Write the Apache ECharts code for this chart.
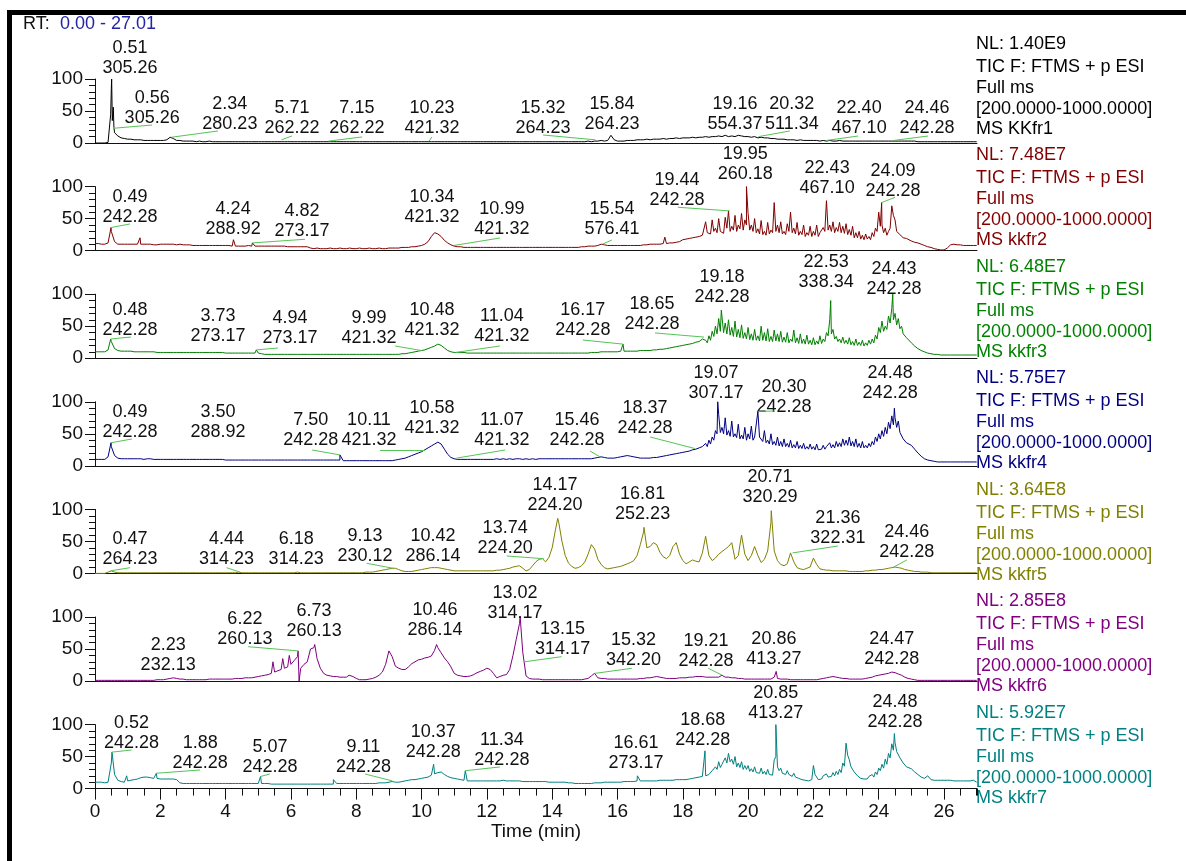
<!DOCTYPE html>
<html>
<head>
<meta charset="utf-8">
<title>TIC chromatograms kkfr1-7</title>
<script src="https://cdn.jsdelivr.net/npm/echarts@6/dist/echarts.min.js"></script>
<style>
  html, body { margin: 0; padding: 0; background: #ffffff; }
  #chart { width: 1186px; height: 861px; }
</style>
</head>
<body>
<div id="chart"></div>
<script>
// ---- data -----------------------------------------------------------------
// Relative abundance (%) sampled every 0.1 min from 0.0 to 27.0 min.
const STEP = 0.1;
const RT_MAX = 27.01;

const trace1 = [
  0,0,0,0,1,85,16,11,8,7,
  6,6,5,5,5,4,4,4,4,4,
  4,4,5,9,7,4,4,3,3,3,
  3,2,3,2,2,3,2,2,2,2,
  2,2,2,2,2,2,2,2,2,2,
  2,2,2,2,2,2,2,2,2,2,
  2,2,2,2,2,2,2,2,2,2,
  2,2,2,2,2,2,2,2,2,2,
  2,2,2,2,2,2,2,2,2,2,
  2,2,2,2,2,2,2,2,2,2,
  2,2,2,2,2,2,2,2,2,2,
  2,2,2,2,2,2,2,2,2,2,
  2,2,2,2,2,2,2,2,2,2,
  2,2,2,2,2,2,2,2,2,2,
  2,2,2,2,2,2,2,2,2,2,
  2,3,2,3,3,4,3,4,12,5,
  3,3,3,4,4,4,5,5,5,6,
  5,6,6,6,7,6,7,7,8,7,
  8,8,8,9,8,9,9,10,9,10,
  10,11,10,12,10,11,10,12,11,10,
  10,9,10,8,9,8,8,7,7,6,
  6,6,5,5,5,4,5,4,4,4,
  4,4,3,4,3,4,3,3,4,3,
  3,3,3,3,3,3,3,3,3,3,
  3,3,3,3,3,3,3,3,3,3,
  3,3,2,2,2,2,2,2,2,2,
  2,2,2,2,2,2,2,2,2,2,
  2
];
const spikes1 = [[0.45,3],[0.48,45],[0.51,100],[0.53,35],[0.56,56],[0.58,24]];

const trace2 = [
  11,11,10,10,12,30,14,10,10,10,
  10,10,10,10,10,10,10,10,9,9,
  10,10,10,10,10,9,10,9,9,9,
  8,8,8,8,8,8,8,8,8,8,
  8,8,7,7,7,7,7,8,7,7,
  7,7,7,7,7,7,7,7,7,6,
  6,6,6,6,6,6,4,3,4,3,
  3,3,4,3,3,4,3,3,4,3,
  3,4,3,3,4,3,3,4,3,3,
  4,4,4,4,5,5,5,6,6,7,
  8,10,14,22,28,26,22,16,12,9,
  7,6,6,5,5,5,5,5,5,5,
  5,5,5,5,5,5,5,5,5,5,
  5,5,5,5,5,5,5,5,5,5,
  5,5,5,5,5,5,5,5,5,6,
  6,7,7,7,8,10,9,8,8,8,
  8,8,8,8,8,8,8,8,9,9,
  10,10,10,10,11,11,12,12,13,14,
  17,18,19,20,21,22,24,45,30,48,
  35,50,33,52,62,38,55,40,58,48,
  58,40,50,34,47,30,44,32,75,40,
  45,30,42,60,35,44,30,40,28,38,
  30,40,28,36,78,40,45,36,44,38,
  42,33,38,28,30,24,26,22,28,35,
  60,40,35,30,70,48,33,26,22,18,
  15,13,12,10,8,6,5,3,2,1,
  1,4,9,10,9,9,8,8,8,8,
  8
];
const spikes2 = [[0.49,36],[1.38,20],[4.24,17],[4.82,12],[17.45,21],[19.95,100],[24.09,75]];

const trace3 = [
  10,10,10,10,13,26,15,12,11,11,
  11,11,10,10,10,10,10,10,10,9,
  9,9,9,9,9,9,9,9,9,9,
  9,9,9,9,9,9,9,9,9,9,
  8,8,8,8,8,8,8,8,8,8,
  8,7,6,6,6,6,6,6,6,6,
  6,6,6,6,6,6,6,6,6,6,
  6,6,6,6,6,6,6,6,6,6,
  6,6,6,6,6,6,6,6,6,6,
  6,6,6,6,7,7,8,9,10,11,
  12,13,15,17,19,22,20,16,12,10,
  9,9,9,9,8,8,8,8,8,8,
  8,8,8,8,8,8,8,8,8,8,
  8,8,8,8,8,8,8,8,8,8,
  8,8,8,8,8,8,8,8,8,8,
  8,8,9,9,9,10,10,10,10,10,
  10,11,11,11,11,11,11,12,12,12,
  12,13,13,14,14,15,16,17,18,19,
  20,21,22,23,25,26,30,28,35,42,
  50,62,72,55,60,48,58,45,52,40,
  48,38,45,35,50,40,46,34,44,38,
  42,33,40,30,44,32,38,30,36,28,
  32,27,35,30,40,60,45,34,30,33,
  28,32,26,30,25,28,24,28,30,36,
  48,58,50,66,78,70,62,50,40,30,
  24,19,15,12,10,8,7,6,6,5,
  5,5,5,5,5,5,5,5,5,5,
  5
];
const spikes3 = [[0.48,30],[4.94,13],[16.17,22],[18.65,33],[19.18,75],[22.53,90],[24.43,100]];

const trace4 = [
  10,10,10,10,14,30,16,12,11,11,
  11,11,11,11,11,10,11,11,10,10,
  10,10,10,10,10,10,10,10,10,10,
  10,10,10,10,10,10,10,10,10,10,
  9,9,9,9,9,9,9,9,9,9,
  9,9,9,9,9,9,9,9,9,9,
  9,9,9,9,9,9,9,9,9,9,
  9,9,9,9,9,9,8,8,8,8,
  8,8,8,8,8,8,8,8,8,8,
  8,8,9,10,11,12,14,16,18,20,
  22,25,28,31,34,37,34,26,18,13,
  11,10,10,10,10,10,10,10,10,10,
  10,10,10,11,10,11,10,11,10,11,
  11,10,11,10,11,10,11,11,11,11,
  11,11,11,11,11,11,11,11,11,11,
  11,11,11,12,13,14,13,12,12,12,
  13,14,15,16,15,14,13,12,12,12,
  12,13,13,14,15,16,17,18,19,20,
  21,22,23,25,26,28,30,35,40,45,
  55,80,60,75,55,70,50,65,48,60,
  50,62,45,85,48,55,40,50,38,45,
  38,42,35,40,33,38,32,35,30,34,
  30,34,28,32,30,36,33,38,36,42,
  40,45,38,42,35,38,32,35,38,45,
  50,55,60,68,78,75,70,55,45,38,
  32,26,20,15,11,9,8,7,6,6,
  6,6,6,6,6,6,6,6,6,6,
  6
];
const spikes4 = [[0.49,36],[7.50,17],[19.07,100],[24.48,90]];

const trace5 = [
  0,0,0,0,2,4,2,1,1,1,
  1,1,1,1,1,1,1,1,1,1,
  1,1,1,1,1,1,1,1,1,1,
  1,1,1,1,1,1,1,1,1,1,
  1,1,1,1,2,1,1,1,1,1,
  1,1,1,1,1,1,1,1,1,1,
  1,1,2,1,1,1,1,1,1,1,
  1,1,1,1,1,1,1,1,1,1,
  1,1,1,2,2,2,3,4,5,6,
  7,8,8,6,4,3,3,3,4,5,
  6,7,8,9,9,9,8,7,6,5,
  4,4,4,4,4,4,4,4,4,4,
  4,4,4,5,5,6,7,8,10,11,
  12,8,4,6,12,18,22,23,18,25,
  40,68,80,50,28,16,11,8,9,12,
  18,30,45,38,22,14,9,7,8,9,
  10,11,13,15,17,20,28,45,65,40,
  42,48,45,33,26,23,28,42,48,30,
  20,15,18,21,19,18,32,58,28,20,
  24,30,34,38,42,48,22,28,60,30,
  20,28,42,28,17,22,35,80,35,20,
  14,12,15,32,18,9,7,6,8,10,
  24,14,7,6,5,5,4,4,4,4,
  4,3,3,3,3,3,4,4,5,5,
  6,6,7,8,9,10,9,8,6,5,
  4,3,3,2,2,2,1,1,1,1,
  1,1,1,1,1,1,1,1,1,1,
  1
];
const spikes5 = [[14.17,86],[16.81,72],[20.71,98]];

const trace6 = [
  1,1,1,1,1,1,1,1,1,1,
  1,1,1,1,1,1,1,1,1,2,
  2,2,3,4,5,4,3,3,2,2,
  2,2,2,2,2,3,3,3,3,3,
  3,3,3,4,4,4,5,5,5,6,
  7,8,9,10,12,14,16,18,20,22,
  26,32,38,20,26,30,50,52,35,20,
  12,9,8,7,7,6,6,6,6,7,
  4,2,2,2,3,4,6,9,14,26,
  47,38,23,20,18,18,22,27,30,33,
  34,36,37,39,48,52,44,36,30,22,
  12,9,8,7,7,8,10,13,15,17,
  20,18,12,5,7,9,10,18,40,65,
  90,45,8,4,3,3,3,2,2,2,
  2,2,2,2,2,2,2,2,2,2,
  3,4,8,12,5,4,4,3,3,3,
  3,3,3,3,3,3,3,4,4,5,
  5,6,7,6,5,4,4,4,4,5,
  5,5,6,6,7,7,7,6,6,6,
  6,6,9,6,6,5,5,4,4,3,
  3,3,3,3,3,3,3,3,6,4,
  3,3,3,2,2,2,2,2,2,2,
  2,2,3,4,5,6,7,6,5,4,
  4,3,3,3,3,3,4,5,6,8,
  9,10,11,12,14,13,11,9,6,4,
  3,2,1,1,1,1,1,1,1,1,
  1,1,1,1,1,1,1,1,1,1,
  1
];
const spikes6 = [[5.45,30],[5.75,35],[5.95,40],[6.22,47],[6.25,0],[6.73,57],[7.78,9],[10.46,57],[13.02,100],[20.86,15]];

const trace7 = [
  10,10,10,9,10,40,22,13,11,10,
  12,13,14,15,17,18,18,17,16,16,
  15,15,15,15,15,14,9,8,8,8,
  8,8,8,8,8,8,8,8,8,8,
  8,8,8,8,8,8,8,8,8,8,
  8,8,8,8,7,7,7,7,7,7,
  7,7,7,7,7,7,7,7,7,7,
  7,7,7,7,8,8,8,8,8,8,
  8,8,8,8,8,8,8,9,9,9,
  10,11,10,10,11,12,13,14,14,15,
  16,17,18,21,23,25,26,22,19,17,
  16,15,14,13,12,12,12,12,12,12,
  12,12,12,12,12,13,12,12,12,12,
  12,11,11,11,11,11,11,11,11,10,
  10,10,10,10,10,9,9,8,8,8,
  8,8,8,9,9,9,10,10,10,10,
  10,10,11,11,11,11,12,12,12,12,
  12,12,12,13,13,13,13,13,14,14,
  14,14,15,16,17,18,19,20,22,28,
  34,42,38,48,55,46,50,40,42,36,
  36,31,34,28,32,27,30,25,45,34,
  32,26,28,22,24,20,18,15,14,13,
  36,18,16,20,23,21,25,27,30,40,
  71,45,35,28,20,18,17,19,22,26,
  32,38,46,55,70,72,60,50,42,36,
  31,26,22,18,16,20,14,13,13,13,
  13,13,13,12,12,12,12,12,12,13,
  10
];
const spikes7 = [[0.52,57],[0.97,20],[1.88,24],[5.07,19],[7.30,14],[10.37,38],[11.34,28],[16.61,20],[18.68,59],[20.85,100],[24.48,86]];

// Extra readings halfway between samples in the busy 18.75-24.85 min window
const FILL_START = 18.75;
const fill2 = [28,26,30, 28,30,27,35,30,32,30,34,32,40, 32,30,28,26,25,24,26,28,30,28,
  26,25,30,28,26,24,25,22,24,22, 24,22,25,30,32,30,28,30,28,27, 25,24,20,20,18,17,18,17,22,30,
  38,28,24,35,55,30,25,20,19];
const fill3 = [24,28,34, 38,42,40,38,36,34,33,32,31,30, 29,28,28,27,28,27,26,26,27,26,
  25,25,24,26,24,23,23,22,22,21, 21,22,23,26,35,38,30,26,24,23, 22,21,20,20,20,19,20,22,24,30,
  40,42,45,55,60,52,46,38,32];
const fill4 = [30,34,40, 50,52,50,48,46,45,44,42,42,40, 42,40,42,45,38,36,34,33,32,31,
  30,30,29,28,28,27,27,26,26,26, 25,25,26,26,27,28,28,30,30,32, 32,31,30,29,28,28,28,30,33,38,
  42,46,50,58,64,60,52,42,36];
const fill7 = [17,20,26, 30,33,36,40,42,38,34,33,30,30, 27,26,25,24,23,22,22,21,50,28,
  24,22,22,19,18,16,14,13,12,14, 22,14,15,17,18,19,20,22,25,35, 52,34,26,20,16,15,15,16,18,22,
  28,32,38,48,60,58,48,40,34];

// Peak annotations: retention time and base-peak m/z
const peaks1 = [['0.51','305.26'],['0.56','305.26'],['2.34','280.23'],['5.71','262.22'],['7.15','262.22'],['10.23','421.32'],['15.32','264.23'],['15.84','264.23'],['19.16','554.37'],['20.32','511.34'],['22.40','467.10'],['24.46','242.28']];
const peaks2 = [['0.49','242.28'],['4.24','288.92'],['4.82','273.17'],['10.34','421.32'],['10.99','421.32'],['15.54','576.41'],['19.44','242.28'],['19.95','260.18'],['22.43','467.10'],['24.09','242.28']];
const peaks3 = [['0.48','242.28'],['3.73','273.17'],['4.94','273.17'],['9.99','421.32'],['10.48','421.32'],['11.04','421.32'],['16.17','242.28'],['18.65','242.28'],['19.18','242.28'],['22.53','338.34'],['24.43','242.28']];
const peaks4 = [['0.49','242.28'],['3.50','288.92'],['7.50','242.28'],['10.11','421.32'],['10.58','421.32'],['11.07','421.32'],['15.46','242.28'],['18.37','242.28'],['19.07','307.17'],['20.30','242.28'],['24.48','242.28']];
const peaks5 = [['0.47','264.23'],['4.44','314.23'],['6.18','314.23'],['9.13','230.12'],['10.42','286.14'],['13.74','224.20'],['14.17','224.20'],['16.81','252.23'],['20.71','320.29'],['21.36','322.31'],['24.46','242.28']];
const peaks6 = [['2.23','232.13'],['6.22','260.13'],['6.73','260.13'],['10.46','286.14'],['13.02','314.17'],['13.15','314.17'],['15.32','342.20'],['19.21','242.28'],['20.86','413.27'],['24.47','242.28']];
const peaks7 = [['0.52','242.28'],['1.88','242.28'],['5.07','242.28'],['9.11','242.28'],['10.37','242.28'],['11.34','242.28'],['16.61','273.17'],['18.68','242.28'],['20.85','413.27'],['24.48','242.28']];

// Scan header / normalisation level for each trace
const nlLevels = ['1.40E9','7.48E7','6.48E7','5.75E7','3.64E8','2.85E8','5.92E7'];
const runNames = ['KKfr1','kkfr2','kkfr3','kkfr4','kkfr5','kkfr6','kkfr7'];
const xTickLabels = [0,2,4,6,8,10,12,14,16,18,20,22,24,26];
const yTickLabels = [0,50,100];

// ---- label placement (axis units) -------------------------------------------
// [label x (min), m/z line y (%), leader start y on trace, leader end x, leader end y]
const spots1 = [[1.07,117.2,100,1.10,106.3],[1.75,39.1,23,1.75,28.1],[4.13,29.7,9,3.77,18.8],[6.03,23.4,5,6.03,10.9],[8.02,23.4,3,8.18,9.4],[10.32,23.4,3,10.32,9.4],[13.72,23.4,5,13.72,12.5],[15.83,29.7],[19.60,29.7],[21.34,29.7,10,21.28,18.8],[23.40,23.4,4,23.37,10.9],[25.48,23.4,4,25.51,10.9]];
const spots2 = [[1.07,53.0,36,1.07,41.6],[4.23,33.8],[6.34,30.6,12,6.43,17.7],[10.32,52.5],[12.46,33.8,8,12.40,19.7],[15.83,33.8,10,15.83,16.6],[17.82,79.1,62,17.85,67.7],[19.91,119.7],[22.42,97.8],[24.44,93.6,75,24.50,83.3]];
const spots3 = [[1.07,44.1,30,1.10,33.1],[3.77,34.7],[5.97,31.6,13,5.60,15.9],[8.39,31.6,12,9.19,19.1],[10.32,44.1],[12.46,34.7,9,12.40,19.1],[14.94,44.1,22,14.94,28.4],[17.06,53.4,33,17.15,39.4],[19.20,95.6],[22.39,119.1],[24.47,108.1]];
const spots4 = [[1.07,52.8,36,1.13,41.9],[3.77,52.8],[6.61,40.3,17,6.65,24.7],[8.39,40.3,25,8.73,24.7],[10.32,59.1],[12.46,40.3,12,12.56,24.7],[14.76,40.3,14,15.16,23.1],[16.84,59.1,27,17.00,45.0],[19.02,113.8],[21.10,91.9,85,20.82,85.6],[24.35,113.8]];
const spots5 = [[1.07,22.5,4,1.07,8.9],[4.03,22.5,2,4.03,8.9],[6.16,22.5],[8.27,27.2,8,8.32,15.8],[10.35,27.2],[12.56,39.2,23,12.61,27.2],[14.09,106.9],[16.77,92.8],[20.67,118.9],[22.75,55.3,32,22.75,42.8],[24.86,33.9,10,24.86,20.9]];
const spots6 = [[2.24,25.0],[4.59,65.2,47,4.69,53.6],[6.71,78.6],[10.41,79.7],[12.86,106.3],[14.32,49.5,30,14.29,38.0],[16.49,32.8,12,16.44,19.8],[18.71,31.7,9,18.78,19.8],[20.79,33.9],[24.40,33.9]];
const spots7 = [[1.12,71.7,57,1.12,60.3],[3.22,40.5,24,3.22,29.1],[5.36,34.2,19,5.36,22.8],[8.22,34.2,12,8.27,22.8],[10.36,57.7],[12.46,44.7,28,12.40,33.8],[16.57,40.5],[18.61,75.9],[20.85,118.6],[24.50,104.5]];

// ---- layout & style -----------------------------------------------------------
const FONT = '"Liberation Sans", Arial, Helvetica, sans-serif';
const TEXT = '#111111';
const LEADER = '#55c455';
const colors = ['#000000','#800000','#008000','#000080','#808000','#800080','#008080'];
const PLOT_LEFT = 95, PLOT_W = 882, PANEL_TOP = 79, PANEL_STEP = 107.6, PANEL_H = 64;

const traces = [trace1,trace2,trace3,trace4,trace5,trace6,trace7];
const spikes = [spikes1,spikes2,spikes3,spikes4,spikes5,spikes6,spikes7];
const fills = [[],fill2,fill3,fill4,[],[],fill7];
const peaks = [peaks1,peaks2,peaks3,peaks4,peaks5,peaks6,peaks7];
const spots = [spots1,spots2,spots3,spots4,spots5,spots6,spots7];

function buildTrace(vals, extra, mids) {
  const pts = vals.map((v, i) => [Math.round(i * STEP * 100) / 100, v]);
  mids.forEach((v, k) => pts.push([Math.round((FILL_START + k * STEP) * 100) / 100, v]));
  extra.forEach(p => pts.push([p[0], p[1]]));
  pts.sort((a, b) => a[0] - b[0]);
  return pts;
}

const grids = [], xAxes = [], yAxes = [], series = [];
for (let i = 0; i < 7; i++) {
  const last = i === 6;
  grids.push({ left: PLOT_LEFT, width: PLOT_W, top: PANEL_TOP + i * PANEL_STEP, height: PANEL_H, containLabel: false });
  xAxes.push({
    gridIndex: i, type: 'value', min: 0, max: RT_MAX, interval: 2,
    axisLine: { show: true, onZero: false, lineStyle: { color: '#111', width: 1 } },
    axisTick: { show: last, length: 11, lineStyle: { color: '#111' } },
    axisLabel: {
      show: last, showMaxLabel: false, margin: 14, fontSize: 19, color: TEXT, fontFamily: FONT,
      formatter: v => (xTickLabels.indexOf(v) >= 0 ? String(v) : '')
    },
    splitLine: { show: false },
    name: last ? 'Time (min)' : '', nameLocation: 'middle', nameGap: 33,
    nameTextStyle: { fontSize: 19, color: TEXT, fontFamily: FONT }
  });
  yAxes.push({
    gridIndex: i, type: 'value', min: 0, max: 100, interval: 50,
    axisLine: { show: true, lineStyle: { color: '#111', width: 1 } },
    axisTick: { show: true, length: 10, lineStyle: { color: '#111' } },
    minorTick: { show: true, splitNumber: 5, length: 6, lineStyle: { color: '#111' } },
    axisLabel: {
      margin: 12, fontSize: 19, color: TEXT, fontFamily: FONT,
      formatter: v => (yTickLabels.indexOf(v) >= 0 ? String(v) : '')
    },
    splitLine: { show: false }
  });
}
// half-minute ticks under the bottom trace
xAxes.push({
  gridIndex: 6, type: 'value', min: 0, max: RT_MAX, interval: 0.5, position: 'bottom',
  axisLine: { show: false }, axisTick: { show: true, length: 7, lineStyle: { color: '#111' } },
  axisLabel: { show: false }, splitLine: { show: false }
});

for (let i = 0; i < 7; i++) {
  series.push({
    type: 'line', xAxisIndex: i, yAxisIndex: i, data: buildTrace(traces[i], spikes[i], fills[i]),
    showSymbol: false, symbol: 'none', silent: true, animation: false, clip: false,
    lineStyle: { color: colors[i], width: 1 }, z: 2
  });
  const labelData = peaks[i].map((p, k) => ({ name: p[0] + '\n' + p[1], value: [spots[i][k][0], spots[i][k][1]] }));
  const leaders = [];
  peaks[i].forEach((p, k) => {
    const s = spots[i][k];
    if (s.length === 5) leaders.push([{ coord: [parseFloat(p[0]), s[2]] }, { coord: [s[3], s[4]] }]);
  });
  series.push({
    type: 'scatter', xAxisIndex: i, yAxisIndex: i, data: labelData, clip: false,
    symbolSize: 0, itemStyle: { color: TEXT }, silent: true, animation: false, z: 4,
    label: {
      show: true, position: 'inside', offset: [0, -10], formatter: q => q.name,
      fontSize: 18, lineHeight: 20, color: TEXT, opacity: 1, fontFamily: FONT, align: 'center',
      textBorderWidth: 0, textBorderColor: 'transparent', textShadowBlur: 0
    },
    markLine: {
      silent: true, symbol: ['none', 'none'], animation: false, label: { show: false },
      lineStyle: { color: LEADER, width: 1, type: 'solid' }, emphasis: { disabled: true },
      data: leaders
    }
  });
}

// frame, run-time range and scan-header text blocks
const graphics = [
  { type: 'rect', shape: { x: 9.5, y: 12.5, width: 1300, height: 1000 }, style: { fill: 'none', stroke: '#000', lineWidth: 5 }, silent: true, z: 10 },
  { type: 'text', x: 23, y: 24, style: { text: 'RT:', font: '18px ' + FONT, fill: TEXT, verticalAlign: 'middle' }, silent: true },
  { type: 'text', x: 60, y: 24, style: { text: '0.00 - 27.01', font: '18px ' + FONT, fill: '#2424a6', verticalAlign: 'middle' }, silent: true }
];
const blockOffsets = [0, 23, 44, 65, 85];
for (let i = 0; i < 7; i++) {
  const lines = ['NL: ' + nlLevels[i], 'TIC F: FTMS + p ESI', 'Full ms', '[200.0000-1000.0000]', 'MS ' + runNames[i]];
  lines.forEach((t, j) => {
    graphics.push({
      type: 'text', x: 976, y: 44 + i * 111.5 + blockOffsets[j],
      style: { text: t, font: '18px ' + FONT, fill: colors[i], verticalAlign: 'middle' }, silent: true
    });
  });
}

const chart = echarts.init(document.getElementById('chart'), null, { renderer: 'canvas' });
chart.setOption({
  backgroundColor: '#ffffff',
  animation: false,
  grid: grids, xAxis: xAxes, yAxis: yAxes, series: series, graphic: graphics
});
</script>
</body>
</html>
